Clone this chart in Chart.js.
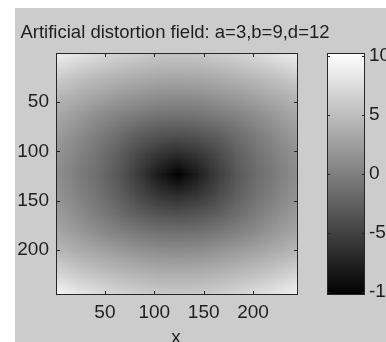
<!DOCTYPE html>
<html>
<head>
<meta charset="utf-8">
<script src="https://cdn.jsdelivr.net/npm/chart.js@4.4.1/dist/chart.umd.min.js"></script>
<style>
  body { margin: 0; background: #fff; }
  #wrap { position: relative; width: 386px; height: 342px; overflow: hidden; }
  #main { position: absolute; left: 0; top: 0; }
  #cbar { position: absolute; left: 300px; top: 0; }
</style>
</head>
<body>
<div id="wrap">
  <canvas id="main" width="386" height="342"></canvas>
  <canvas id="cbar" width="86" height="342"></canvas>
</div>
<script>
/* data */
/////////////////////////////////////////////////////////////////
const titleText = 'Artificial distortion field: a=3,b=9,d=12';
const xLabel = 'x';
const xRange = [0.5, 245.5];
const yRange = [0.5, 245.5];
const axisTicks = [50, 100, 150, 200];
const colorRange = [-10.25, 10.25];
const colorTicks = [-10, -5, 0, 5, 10];

// sample positions (pixel centres) of the field grid
const xSamples = [3, 23, 43, 63, 83, 103, 123, 143, 163, 183, 203, 223, 243];
const ySamples = [3, 23, 43, 63, 83, 103, 123, 143, 163, 183, 203, 223, 243];

// field values, one row per ySample (top to bottom)
const field = [
  [8.6, 7.8, 7.0, 6.4, 6.0, 5.5, 5.4, 5.5, 6.0, 6.4, 7.0, 7.8, 8.6],
  [6.4, 5.5, 4.9, 4.3, 3.8, 3.5, 3.4, 3.5, 3.8, 4.3, 4.9, 5.5, 6.4],
  [4.5, 3.7, 3.0, 2.3, 1.8, 1.3, 1.2, 1.3, 1.8, 2.3, 3.0, 3.7, 4.5],
  [3.2, 2.2, 1.2, 0.3, -0.4, -0.9, -1.0, -0.9, -0.4, 0.3, 1.2, 2.2, 3.2],
  [2.2, 1.0, -0.2, -1.4, -2.6, -3.4, -3.7, -3.4, -2.6, -1.4, -0.2, 1.0, 2.2],
  [1.5, 0.2, -1.1, -2.6, -4.4, -6.0, -6.8, -6.0, -4.4, -2.6, -1.1, 0.2, 1.5],
  [1.1, -0.2, -1.5, -3.2, -5.4, -8.0, -10.2, -8.0, -5.4, -3.2, -1.5, -0.2, 1.1],
  [1.5, 0.2, -1.1, -2.6, -4.4, -6.0, -6.8, -6.0, -4.4, -2.6, -1.1, 0.2, 1.5],
  [2.2, 1.0, -0.2, -1.4, -2.6, -3.4, -3.7, -3.4, -2.6, -1.4, -0.2, 1.0, 2.2],
  [3.2, 2.2, 1.2, 0.3, -0.4, -0.9, -1.0, -0.9, -0.4, 0.3, 1.2, 2.2, 3.2],
  [4.7, 3.9, 3.2, 2.5, 1.9, 1.5, 1.4, 1.5, 1.9, 2.5, 3.2, 3.9, 4.7],
  [6.8, 5.9, 5.2, 4.6, 4.1, 3.8, 3.7, 3.8, 4.1, 4.6, 5.2, 5.9, 6.8],
  [9.2, 8.2, 7.4, 6.7, 6.2, 5.8, 5.7, 5.8, 6.2, 6.7, 7.4, 8.2, 9.0]
];
/////////////////////////////////////////////////////////////////

const FONT = "'Liberation Sans', Arial, sans-serif";
const INK = '#1e1e1e';
const FIG_BG = '#cccccc';

function greyOf(v) {
    let t = (v - colorRange[0]) / (colorRange[1] - colorRange[0]);
    t = Math.max(0, Math.min(1, t));
    return Math.round(t * 255);
}

/* figure background: white strip top/left, grey figure */
const figBackground = {
    id: 'figBackground',
    beforeDraw(chart) {
        const c = chart.ctx;
        c.save();
        c.fillStyle = '#ffffff';
        c.fillRect(0, 0, chart.width, chart.height);
        c.fillStyle = FIG_BG;
        c.fillRect(15, 8, chart.width - 15, chart.height - 8);
        c.restore();
    }
};

/* field image drawn through the x / y scales */
const fieldImage = {
    id: 'fieldImage',
    beforeDatasetsDraw(chart) {
        const xs = chart.scales.x, ys = chart.scales.y;
        const nx = xSamples.length, ny = ySamples.length;
        const off = document.createElement('canvas');
        off.width = nx; off.height = ny;
        const octx = off.getContext('2d');
        const img = octx.createImageData(nx, ny);
        for (let j = 0; j < ny; j++) {
            for (let i = 0; i < nx; i++) {
                const g = greyOf(field[j][i]);
                const k = (j * nx + i) * 4;
                img.data[k] = g; img.data[k + 1] = g; img.data[k + 2] = g; img.data[k + 3] = 255;
            }
        }
        octx.putImageData(img, 0, 0);
        const hx = (xSamples[1] - xSamples[0]) / 2;
        const hy = (ySamples[1] - ySamples[0]) / 2;
        const left = xs.getPixelForValue(xSamples[0] - hx);
        const right = xs.getPixelForValue(xSamples[nx - 1] + hx);
        const top = ys.getPixelForValue(ySamples[0] - hy);
        const bottom = ys.getPixelForValue(ySamples[ny - 1] + hy);
        const a = chart.chartArea;
        const c = chart.ctx;
        c.save();
        c.beginPath();
        c.rect(a.left, a.top, a.right - a.left, a.bottom - a.top);
        c.clip();
        c.imageSmoothingEnabled = true;
        c.drawImage(off, left, top, right - left, bottom - top);
        c.restore();
    }
};

/* box, inward ticks, title and x label */
const axesFrame = {
    id: 'axesFrame',
    afterDraw(chart) {
        const a = chart.chartArea;
        const c = chart.ctx;
        const xs = chart.scales.x, ys = chart.scales.y;
        c.save();
        c.strokeStyle = '#262626';
        c.lineWidth = 1;
        c.strokeRect(Math.round(a.left) + 0.5, Math.round(a.top) + 0.5,
            Math.round(a.right - a.left) - 1, Math.round(a.bottom - a.top) - 1);
        c.beginPath();
        axisTicks.forEach(v => {
            const px = Math.round(xs.getPixelForValue(v)) + 0.5;
            c.moveTo(px, a.bottom); c.lineTo(px, a.bottom - 4);
            c.moveTo(px, a.top); c.lineTo(px, a.top + 4);
            const py = Math.round(ys.getPixelForValue(v)) + 0.5;
            c.moveTo(a.left, py); c.lineTo(a.left + 4, py);
            c.moveTo(a.right, py); c.lineTo(a.right - 4, py);
        });
        c.stroke();
        c.fillStyle = INK;
        c.textAlign = 'center';
        c.textBaseline = 'alphabetic';
        c.font = '18.5px ' + FONT;
        c.fillText(titleText, 175, 38);
        c.font = '19px ' + FONT;
        c.fillText(xLabel, (a.left + a.right) / 2 - 1, 343);
        c.restore();
    }
};

/////////////////////////////////////////////////////////////////
const mainChart = new Chart(document.getElementById('main'), {
    type: 'scatter',
    data: { datasets: [{ data: [], pointRadius: 0 }] },
    options: {
        responsive: false,
        animation: false,
        layout: { padding: { left: 15, top: 53, right: 88, bottom: 0 } },
        plugins: { legend: { display: false }, tooltip: { enabled: false } },
        scales: {
            x: {
                type: 'linear',
                min: xRange[0], max: xRange[1],
                grid: { display: false, drawTicks: false },
                border: { display: false },
                afterBuildTicks: s => { s.ticks = axisTicks.map(v => ({ value: v })); },
                afterFit: s => { s.height = 47; },
                ticks: { color: INK, font: { family: FONT, size: 19 }, padding: 6, autoSkip: false, maxRotation: 0 }
            },
            y: {
                type: 'linear',
                reverse: true,
                min: yRange[0], max: yRange[1],
                grid: { display: false, drawTicks: false },
                border: { display: false },
                afterBuildTicks: s => { s.ticks = axisTicks.map(v => ({ value: v })); },
                afterFit: s => { s.width = 41; },
                ticks: { color: INK, font: { family: FONT, size: 19 }, padding: 7, autoSkip: false }
            }
        }
    },
    plugins: [figBackground, fieldImage, axesFrame]
});

/* colour bar */
/////////////////////////////////////////////////////////////////
const cbarFrame = {
    id: 'cbarFrame',
    afterDraw(chart) {
        const a = chart.chartArea;
        const c = chart.ctx;
        const ys = chart.scales.y;
        c.save();
        c.strokeStyle = '#262626';
        c.lineWidth = 1;
        c.strokeRect(Math.round(a.left) + 0.5, Math.round(a.top) + 0.5,
            Math.round(a.right - a.left) - 1, Math.round(a.bottom - a.top) - 1);
        c.beginPath();
        colorTicks.forEach(v => {
            const py = Math.round(ys.getPixelForValue(v)) + 0.5;
            c.moveTo(a.left, py); c.lineTo(a.left + 3, py);
            c.moveTo(a.right, py); c.lineTo(a.right - 3, py);
        });
        c.stroke();
        c.restore();
    }
};

const cbarChart = new Chart(document.getElementById('cbar'), {
    type: 'bar',
    data: {
        labels: ['c'],
        datasets: [{
            data: [colorRange],
            barPercentage: 1,
            categoryPercentage: 1,
            borderWidth: 0,
            backgroundColor: ctx => {
                const ch = ctx.chart;
                const ys = ch.scales.y;
                if (!ch.chartArea || !ys) return '#808080';
                const p0 = ys.getPixelForValue(colorRange[0]);
                const p1 = ys.getPixelForValue(colorRange[1]);
                if (!isFinite(p0) || !isFinite(p1)) return '#808080';
                const g = ch.ctx.createLinearGradient(0, p0, 0, p1);
                g.addColorStop(0, '#000000');
                g.addColorStop(1, '#ffffff');
                return g;
            }
        }]
    },
    options: {
        responsive: false,
        animation: false,
        layout: { padding: { left: 27, top: 53, right: 0, bottom: 47 } },
        plugins: { legend: { display: false }, tooltip: { enabled: false } },
        scales: {
            x: { display: false },
            y: {
                position: 'right',
                min: colorRange[0], max: colorRange[1],
                grid: { display: false, drawTicks: false },
                border: { display: false },
                afterBuildTicks: s => { s.ticks = colorTicks.map(v => ({ value: v })); },
                afterFit: s => { s.width = 21; },
                ticks: { color: INK, font: { family: FONT, size: 19 }, padding: 4, autoSkip: false }
            }
        }
    },
    plugins: [cbarFrame]
});
</script>
</body>
</html>
